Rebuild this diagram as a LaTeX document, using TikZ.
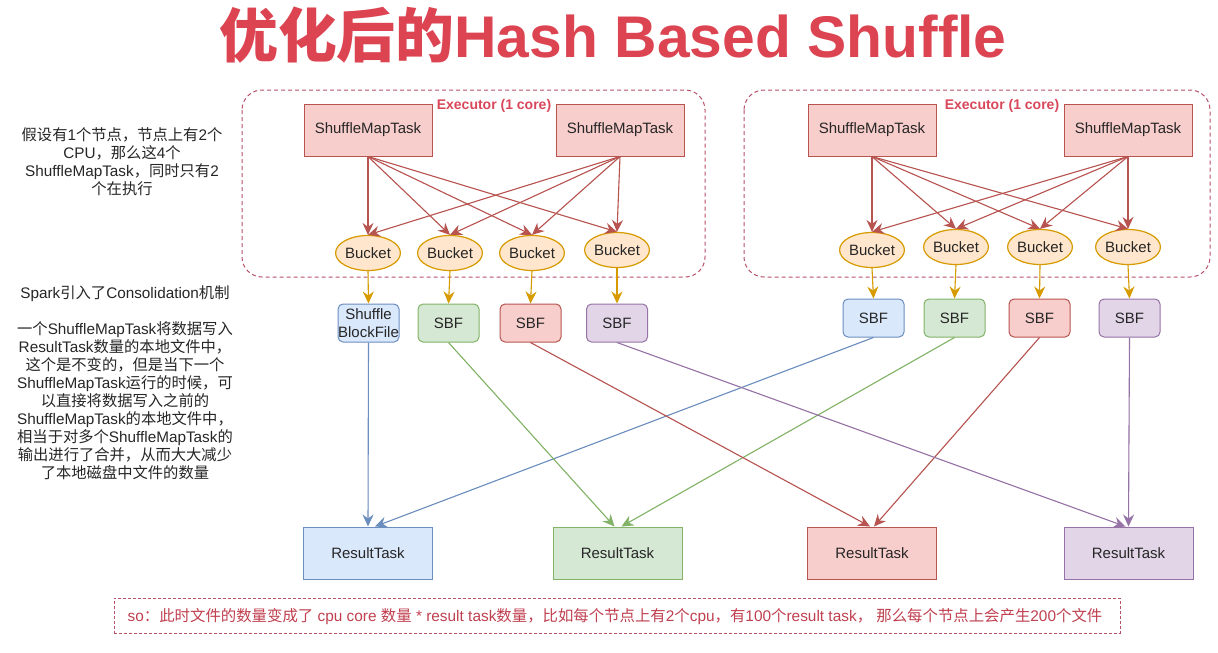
\documentclass[tikz,border=0pt]{standalone}
\usepackage{fontspec}
\setmainfont{Liberation Sans}
\newfontfamily\cjkfont{Noto Sans CJK SC}
\usetikzlibrary{arrows.meta,shapes.geometric,calc}

\XeTeXinterchartokenstate=1
\newXeTeXintercharclass\mycjkclass
\newcount\myc
\myc="4E00 \loop \XeTeXcharclass\myc=\mycjkclass \advance\myc by 1 \ifnum\myc<"A000 \repeat
\myc="3000 \loop \XeTeXcharclass\myc=\mycjkclass \advance\myc by 1 \ifnum\myc<"3040 \repeat
\myc="FF00 \loop \XeTeXcharclass\myc=\mycjkclass \advance\myc by 1 \ifnum\myc<"FFF0 \repeat
\XeTeXinterchartoks 0 \mycjkclass = {\cjkfont}
\XeTeXinterchartoks 4095 \mycjkclass = {\cjkfont}
\XeTeXinterchartoks \mycjkclass 0 = {\rmfamily}
\XeTeXinterchartoks \mycjkclass 4095 = {\rmfamily}

\definecolor{rstroke}{HTML}{B85450}
\definecolor{rfill}{HTML}{F8CECC}
\definecolor{ostroke}{HTML}{D79B00}
\definecolor{ofill}{HTML}{FFE6CC}
\definecolor{bstroke}{HTML}{6C8EBF}
\definecolor{bfill}{HTML}{DAE8FC}
\definecolor{gstroke}{HTML}{82B366}
\definecolor{gfill}{HTML}{D5E8D4}
\definecolor{pstroke}{HTML}{9673A6}
\definecolor{pfill}{HTML}{E1D5E7}
\definecolor{titlered}{HTML}{DC4452}
\definecolor{execred}{HTML}{D9475A}
\definecolor{dashred}{HTML}{B8506A}
\definecolor{notered}{HTML}{C0404F}
\definecolor{textgray}{HTML}{262626}

\tikzset{
  txt/.style={font=\fontsize{15}{17}\selectfont, text=textgray},
  smt/.style={txt, draw=rstroke, fill=rfill, line width=1pt, minimum width=128pt, minimum height=52pt, inner sep=0pt},
  bucket/.style={txt, ellipse, draw=ostroke, fill=ofill, line width=1.2pt, minimum width=58pt, minimum height=35pt, inner sep=0pt},
  sbf/.style={txt, rounded corners=5pt, line width=1pt, minimum width=61pt, minimum height=38pt, inner sep=0pt, align=center},
  rtask/.style={txt, line width=1pt, minimum width=129pt, minimum height=52pt, inner sep=0pt},
  exec/.style={draw=dashred, dashed, dash pattern=on 4pt off 3pt, line width=1pt, rounded corners=20pt},
  tip/.style={-{Stealth[length=12pt,width=11pt,inset=4pt]}, line width=1.1pt},
  redarr/.style={tip, draw=rstroke, fill=rstroke},
  orarr/.style={tip, draw=ostroke, fill=ostroke},
  side/.style={font=\fontsize{15.3}{18}\selectfont, text=textgray, align=center, inner sep=0pt},
}

\begin{document}
\begin{tikzpicture}[x=1pt,y=-1pt]
\useasboundingbox (0,0) rectangle (1218,653);
\fill[white] (0,0) rectangle (1218,653);

% title
\node[font=\fontsize{58.8}{60}\selectfont\bfseries, text=titlered, inner sep=0pt] (title) at (613,35) {优化后的Hash Based Shuffle};

% executor frames
\draw[exec] (242,90) rectangle (705,277);
\draw[exec] (744,90) rectangle (1210,277);

% left executor
\node[smt] (ls1) at (368,130) {ShuffleMapTask};
\node[smt] (ls2) at (620,130) {ShuffleMapTask};
\node[font=\fontsize{14}{16}\selectfont\bfseries, text=execred, inner sep=0pt] (lex) at (494,106) {Executor (1 core)};
\node[bucket] (lb1) at (368,253) {Bucket};
\node[bucket] (lb2) at (450,253) {Bucket};
\node[bucket] (lb3) at (532,253) {Bucket};
\node[bucket] (lb4) at (617,250) {Bucket};

% right executor
\node[smt] (rs1) at (872,130) {ShuffleMapTask};
\node[smt] (rs2) at (1128,130) {ShuffleMapTask};
\node[font=\fontsize{14}{16}\selectfont\bfseries, text=execred, inner sep=0pt] (rex) at (1002,106) {Executor (1 core)};
\node[bucket] (rb1) at (872,250) {Bucket};
\node[bucket] (rb2) at (956,247) {Bucket};
\node[bucket] (rb3) at (1040,247) {Bucket};
\node[bucket] (rb4) at (1128,247) {Bucket};

% SMT -> bucket
\foreach \s in {ls1,ls2}{\foreach \b in {lb1,lb2,lb3,lb4}{\draw[redarr] (\s.south) -- (\b.north);}}
\foreach \s in {rs1,rs2}{\foreach \b in {rb1,rb2,rb3,rb4}{\draw[redarr] (\s.south) -- (\b.north);}}

% SBF files
\node[sbf, draw=bstroke, fill=bfill, font=\fontsize{15}{18}\selectfont] (lf1) at (368.5,323) {Shuffle\\BlockFile};
\node[sbf, draw=gstroke, fill=gfill] (lf2) at (448.5,323) {SBF};
\node[sbf, draw=rstroke, fill=rfill] (lf3) at (530.5,323) {SBF};
\node[sbf, draw=pstroke, fill=pfill] (lf4) at (617,323) {SBF};
\node[sbf, draw=bstroke, fill=bfill] (rf1) at (873.5,318) {SBF};
\node[sbf, draw=gstroke, fill=gfill] (rf2) at (954.5,318) {SBF};
\node[sbf, draw=rstroke, fill=rfill] (rf3) at (1039.5,318) {SBF};
\node[sbf, draw=pstroke, fill=pfill] (rf4) at (1129.5,318) {SBF};

\foreach \i in {1,2,3,4}{
  \draw[orarr] (lb\i.south) -- (lf\i.north);
  \draw[orarr] (rb\i.south) -- (rf\i.north);
}

% result tasks
\node[rtask, draw=bstroke, fill=bfill] (rt1) at (368,553) {ResultTask};
\node[rtask, draw=gstroke, fill=gfill] (rt2) at (617.5,553) {ResultTask};
\node[rtask, draw=rstroke, fill=rfill] (rt3) at (872,553) {ResultTask};
\node[rtask, draw=pstroke, fill=pfill] (rt4) at (1128.5,553) {ResultTask};

\draw[tip, draw=bstroke, fill=bstroke] (lf1.south) -- (rt1.north);
\draw[tip, draw=bstroke, fill=bstroke] (rf1.south) -- ($(rt1.north)+(7,0)$);
\draw[tip, draw=gstroke, fill=gstroke] (lf2.south) -- ($(rt2.north)+(-3,0)$);
\draw[tip, draw=gstroke, fill=gstroke] (rf2.south) -- ($(rt2.north)+(4,0)$);
\draw[tip, draw=rstroke, fill=rstroke] (lf3.south) -- ($(rt3.north)+(-2,0)$);
\draw[tip, draw=rstroke, fill=rstroke] (rf3.south) -- ($(rt3.north)+(2,0)$);
\draw[tip, draw=pstroke, fill=pstroke] (lf4.south) -- ($(rt4.north)+(-3,0)$);
\draw[tip, draw=pstroke, fill=pstroke] (rf4.south) -- (rt4.north);

% side notes
\node[side] (note1) at (122,162) {假设有1个节点，节点上有2个\\CPU，那么这4个\\ShuffleMapTask，同时只有2\\个在执行};
\node[side, anchor=north] (note2) at (125,285) {Spark引入了Consolidation机制\\[18pt]一个ShuffleMapTask将数据写入\\ResultTask数量的本地文件中，\\这个是不变的，但是当下一个\\ShuffleMapTask运行的时候，可\\以直接将数据写入之前的\\ShuffleMapTask的本地文件中，\\相当于对多个ShuffleMapTask的\\输出进行了合并，从而大大减少\\了本地磁盘中文件的数量};

% bottom note
\node[draw=dashred, dashed, dash pattern=on 3pt off 2pt, line width=0.8pt, minimum width=1006pt, minimum height=35pt, inner sep=0pt] (box) at (617,615.5) {};
\node[font=\fontsize{15.4}{17}\selectfont, text=notered, inner sep=0pt] (so) at (615,617) {so：此时文件的数量变成了 cpu core 数量 * result task数量，比如每个节点上有2个cpu，有100个result task， 那么每个节点上会产生200个文件};
\end{tikzpicture}
\end{document}
